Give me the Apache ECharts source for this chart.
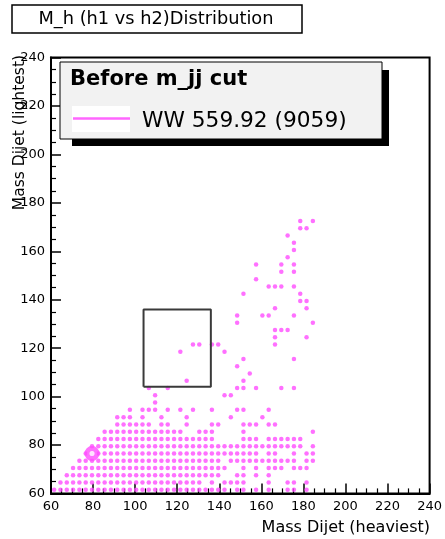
<!DOCTYPE html>
<html>
<head>
<meta charset="utf-8">
<script src="https://cdn.jsdelivr.net/npm/echarts@6/dist/echarts.min.js"></script>
<style>
  html, body { margin: 0; padding: 0; background: #fff; }
  #chart { width: 445px; height: 539px; }
</style>
</head>
<body>
<div id="chart"></div>
<script>
// Occupied (heaviest, lightest) dijet-mass cells, one array of x centres per y row
const rowY = [61.5, 64.5, 67.5, 70.5, 73.5, 76.5, 79.5, 82.5, 85.5, 88.5, 91.5, 94.5,
  97.5, 100.5, 103.5, 106.5, 109.5, 112.5, 115.5, 118.5, 121.5, 124.5, 127.5, 130.5,
  133.5, 136.5, 139.5, 142.5, 145.5, 148.5, 151.5, 154.5, 157.5, 160.5, 163.5, 166.5,
  169.5, 172.5];

const rowX = [
  [61.5, 64.5, 67.5, 70.5, 73.5, 76.5, 79.5, 82.5, 85.5, 88.5, 91.5, 94.5, 97.5, 100.5, 103.5, 106.5, 109.5, 112.5, 115.5, 118.5, 121.5, 124.5, 127.5, 130.5, 133.5, 136.5, 139.5, 142.5, 148.5, 151.5, 157.5, 163.5, 172.5, 175.5, 181.5],
  [64.5, 67.5, 70.5, 73.5, 76.5, 79.5, 82.5, 85.5, 88.5, 91.5, 94.5, 97.5, 100.5, 103.5, 106.5, 109.5, 112.5, 115.5, 118.5, 121.5, 124.5, 127.5, 130.5, 136.5, 142.5, 145.5, 148.5, 151.5, 163.5, 172.5, 175.5, 181.5],
  [67.5, 70.5, 73.5, 76.5, 79.5, 82.5, 85.5, 88.5, 91.5, 94.5, 97.5, 100.5, 103.5, 106.5, 109.5, 112.5, 115.5, 118.5, 121.5, 124.5, 127.5, 130.5, 133.5, 136.5, 139.5, 148.5, 151.5, 157.5, 163.5],
  [70.5, 73.5, 76.5, 79.5, 82.5, 85.5, 88.5, 91.5, 94.5, 97.5, 100.5, 103.5, 106.5, 109.5, 112.5, 115.5, 118.5, 121.5, 124.5, 127.5, 130.5, 133.5, 136.5, 139.5, 142.5, 151.5, 157.5, 163.5, 166.5, 169.5, 175.5, 178.5, 181.5],
  [73.5, 76.5, 79.5, 82.5, 85.5, 88.5, 91.5, 94.5, 97.5, 100.5, 103.5, 106.5, 109.5, 112.5, 115.5, 118.5, 121.5, 124.5, 127.5, 130.5, 133.5, 136.5, 139.5, 145.5, 148.5, 151.5, 154.5, 157.5, 160.5, 163.5, 166.5, 169.5, 172.5, 175.5, 181.5, 184.5],
  [76.5, 79.5, 82.5, 85.5, 88.5, 91.5, 94.5, 97.5, 100.5, 103.5, 106.5, 109.5, 112.5, 115.5, 118.5, 121.5, 124.5, 127.5, 130.5, 133.5, 136.5, 139.5, 142.5, 145.5, 148.5, 151.5, 154.5, 157.5, 163.5, 166.5, 175.5, 181.5, 184.5],
  [79.5, 82.5, 85.5, 88.5, 91.5, 94.5, 97.5, 100.5, 103.5, 106.5, 109.5, 112.5, 115.5, 118.5, 121.5, 124.5, 127.5, 130.5, 133.5, 136.5, 139.5, 142.5, 145.5, 148.5, 151.5, 154.5, 157.5, 160.5, 163.5, 166.5, 169.5, 172.5, 175.5, 178.5, 184.5],
  [82.5, 85.5, 88.5, 91.5, 94.5, 97.5, 100.5, 103.5, 106.5, 109.5, 112.5, 115.5, 118.5, 121.5, 124.5, 127.5, 130.5, 133.5, 136.5, 151.5, 154.5, 157.5, 163.5, 166.5, 169.5, 172.5, 175.5, 178.5],
  [85.5, 88.5, 91.5, 94.5, 97.5, 100.5, 103.5, 106.5, 109.5, 112.5, 115.5, 118.5, 121.5, 130.5, 133.5, 136.5, 151.5, 184.5],
  [91.5, 94.5, 97.5, 100.5, 103.5, 106.5, 112.5, 115.5, 124.5, 136.5, 139.5, 151.5, 154.5, 157.5, 163.5, 166.5],
  [91.5, 94.5, 97.5, 103.5, 112.5, 124.5, 145.5, 160.5],
  [97.5, 103.5, 106.5, 109.5, 115.5, 121.5, 127.5, 136.5, 148.5, 151.5, 163.5],
  [109.5],
  [109.5, 142.5, 145.5],
  [106.5, 115.5, 148.5, 151.5, 157.5, 169.5, 175.5],
  [124.5, 151.5],
  [154.5],
  [148.5],
  [151.5, 175.5],
  [121.5, 142.5],
  [127.5, 130.5, 136.5, 139.5, 166.5],
  [166.5, 181.5],
  [166.5, 169.5, 172.5],
  [148.5, 184.5],
  [148.5, 160.5, 163.5, 175.5],
  [166.5, 181.5],
  [178.5, 181.5],
  [151.5, 178.5],
  [163.5, 166.5, 169.5, 175.5],
  [157.5],
  [169.5, 175.5],
  [157.5, 169.5, 175.5],
  [172.5],
  [175.5],
  [175.5],
  [172.5],
  [178.5, 181.5],
  [178.5, 184.5]
];

// Most populated cell, drawn as a heavy ring
const peakCell = [79.5, 76.5];

// Mass window box corners
const windowX = [104, 136];
const windowY = [104, 136];

// Axis ranges and tick step
const axisMin = 60;
const axisMax = 240;
const axisStep = 20;

const titleText = 'M_h (h1 vs h2)Distribution';
const legendHeader = 'Before m_jj cut';
const legendEntry = 'WW 559.92 (9059)';
const xTitle = 'Mass Dijet (heaviest)';
const yTitle = 'Mass Dijet (lightest)';

const points = [];
rowY.forEach(function (y, r) {
  rowX[r].forEach(function (x) { points.push([x, y]); });
});

const boxPath = [
  [windowX[0], windowY[0]], [windowX[1], windowY[0]],
  [windowX[1], windowY[1]], [windowX[0], windowY[1]],
  [windowX[0], windowY[0]]
];

const FONT = 'DejaVu Sans';
const MAGENTA = '#ff4cff';

const chart = echarts.init(document.getElementById('chart'), null, { renderer: 'canvas' });

function axisCommon() {
  return {
    type: 'value',
    min: axisMin,
    max: axisMax,
    interval: axisStep,
    axisLine: { show: true, onZero: false, lineStyle: { color: '#000', width: 2 } },
    axisTick: { show: true, inside: true, length: 10, lineStyle: { color: '#000', width: 1.5 } },
    minorTick: { show: true, splitNumber: 4, length: 5, lineStyle: { color: '#000', width: 1.2 } },
    splitLine: { show: false },
    minorSplitLine: { show: false },
    axisLabel: { color: '#000', fontFamily: FONT, fontSize: 13, margin: 7 }
  };
}

const option = {
  animation: false,
  backgroundColor: '#fff',
  grid: {
    left: 51, right: 14, top: 57.6, bottom: 45.6,
    show: true, borderColor: '#000', borderWidth: 2, backgroundColor: 'transparent'
  },
  xAxis: axisCommon(),
  yAxis: Object.assign(axisCommon(), {
    axisLabel: { color: '#000', fontFamily: FONT, fontSize: 13, margin: 6 }
  }),
  series: [
    {
      type: 'scatter',
      data: points,
      symbol: 'circle',
      symbolSize: 4.5,
      itemStyle: { color: MAGENTA },
      silent: true,
      z: 3
    },
    {
      type: 'scatter',
      data: [peakCell],
      symbol: 'circle',
      symbolSize: 10,
      itemStyle: { color: '#fff', borderColor: MAGENTA, borderWidth: 5 },
      silent: true,
      z: 4
    },
    {
      type: 'line',
      data: boxPath,
      symbol: 'none',
      lineStyle: { color: '#3a3a3a', width: 2 },
      silent: true,
      z: 5
    }
  ],
  graphic: [
    // title box
    { type: 'rect', shape: { x: 12, y: 5, width: 290, height: 28 },
      style: { fill: '#fff', stroke: '#000', lineWidth: 1.5 }, z: 10 },
    { type: 'text', x: 156, y: 19.5,
      style: { text: titleText, fill: '#000', font: '17.8px "DejaVu Sans"',
               textAlign: 'center', textVerticalAlign: 'middle' }, z: 11 },
    // legend shadow and box
    { type: 'rect', shape: { x: 382, y: 70, width: 7, height: 76 }, style: { fill: '#000' }, z: 10 },
    { type: 'rect', shape: { x: 72, y: 139, width: 317, height: 7 }, style: { fill: '#000' }, z: 10 },
    { type: 'rect', shape: { x: 60, y: 62, width: 322, height: 77 },
      style: { fill: '#f2f2f2', stroke: '#000', lineWidth: 1 }, z: 11 },
    { type: 'text', x: 70, y: 80,
      style: { text: legendHeader, fill: '#000', font: 'bold 21px "DejaVu Sans"',
               textAlign: 'left', textVerticalAlign: 'middle' }, z: 12 },
    { type: 'rect', shape: { x: 72, y: 106, width: 58, height: 26 },
      style: { fill: '#fff', stroke: null }, z: 12 },
    { type: 'line', shape: { x1: 73, y1: 118.5, x2: 130, y2: 118.5 },
      style: { stroke: '#ff66ff', lineWidth: 2.5 }, z: 13 },
    { type: 'text', x: 142, y: 121,
      style: { text: legendEntry, fill: '#000', font: '21.7px "DejaVu Sans"',
               textAlign: 'left', textVerticalAlign: 'middle' }, z: 12 },
    // axis titles
    { type: 'text', x: 430, y: 527.5,
      style: { text: xTitle, fill: '#000', font: '16px "DejaVu Sans"',
               textAlign: 'right', textVerticalAlign: 'middle' }, z: 10 },
    { type: 'text', x: 20, y: 55, rotation: Math.PI / 2,
      style: { text: yTitle, fill: '#000', font: '15.5px "DejaVu Sans"',
               textAlign: 'right', textVerticalAlign: 'middle' }, z: 10 }
  ]
};

chart.setOption(option);
</script>
</body>
</html>
